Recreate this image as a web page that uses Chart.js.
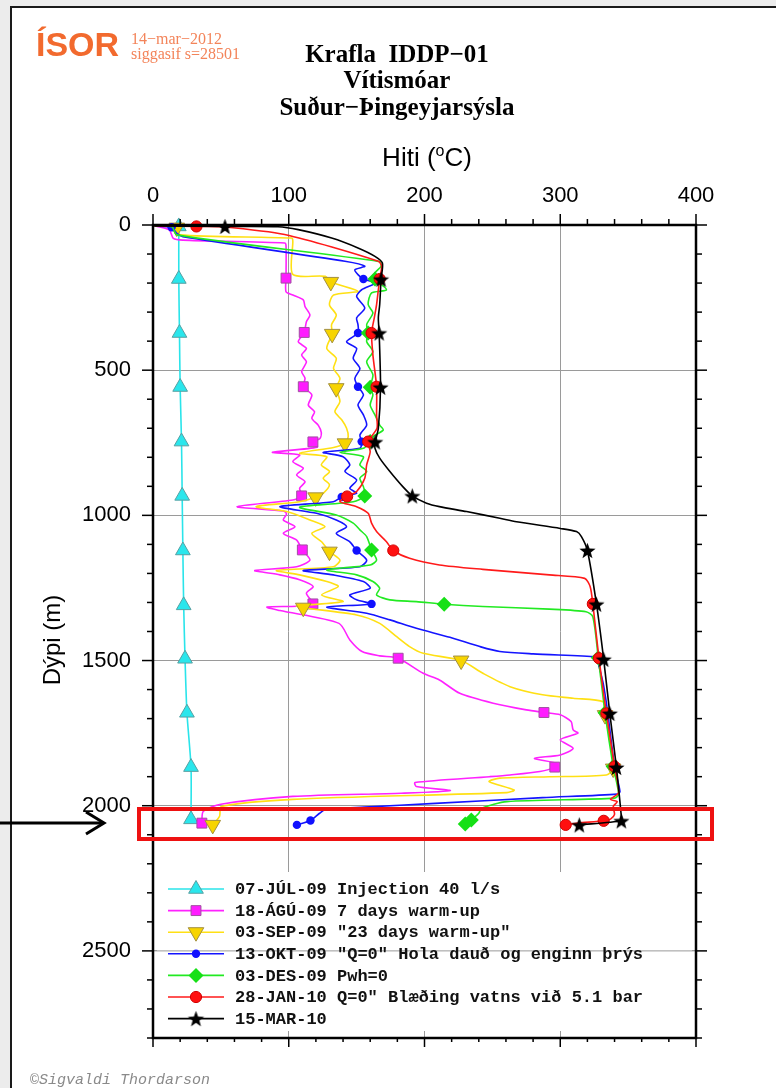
<!DOCTYPE html>
<html lang="is">
<head>
<meta charset="utf-8">
<title>Krafla IDDP-01</title>
<script src="https://cdn.jsdelivr.net/npm/chart.js@4.4.1/dist/chart.umd.min.js"></script>
<style>
  html, body { margin: 0; padding: 0; background: #fff; }
  #page { position: relative; width: 776px; height: 1088px; overflow: hidden; background: #fff; }
  #chartBox { position: absolute; left: 0; top: 0; width: 776px; height: 1088px; }
  .abs { position: absolute; white-space: pre; line-height: 1; }
  .serif { font-family: 'Liberation Serif', 'Times New Roman', serif; }
  .sans { font-family: 'Liberation Sans', Arial, Helvetica, sans-serif; }
</style>
</head>
<body>
<div id="page">
  <div class="abs" style="left:0;top:0;width:10px;height:1088px;background:#ececec"></div>
  <div class="abs" style="left:0;top:0;width:776px;height:6px;background:#ececec"></div>
  <div id="chartBox"><canvas id="chart"></canvas></div>
  <div class="abs" style="left:10px;top:6px;width:2px;height:1082px;background:#1a1a1a"></div>
  <div class="abs" style="left:10px;top:6px;width:766px;height:2px;background:#1a1a1a"></div>

  <div class="abs sans" style="left:36px;top:27px;font-size:34px;font-weight:bold;color:#f26a2e">ÍSOR</div>
  <div class="abs serif" style="left:131px;top:31px;font-size:16px;color:#f3845a">14−mar−2012</div>
  <div class="abs serif" style="left:131px;top:46px;font-size:16px;color:#f3845a">siggasif s=28501</div>

  <div class="abs serif" style="left:197px;top:41px;width:400px;text-align:center;font-size:25px;font-weight:bold">Krafla  IDDP−01</div>
  <div class="abs serif" style="left:197px;top:67px;width:400px;text-align:center;font-size:25px;font-weight:bold">Vítismóar</div>
  <div class="abs serif" style="left:197px;top:94px;width:400px;text-align:center;font-size:25px;font-weight:bold">Suður−Þingeyjarsýsla</div>

  <div class="abs sans" style="left:327px;top:144px;width:200px;text-align:center;font-size:26px">Hiti (<span style="font-size:16px;position:relative;top:-10px">o</span>C)</div>
  <div class="abs sans" style="left:-48px;top:625px;width:200px;height:30px;line-height:30px;text-align:center;font-size:24px;transform:rotate(-90deg)">Dýpi (m)</div>

  <div class="abs" style="left:30px;top:1072px;font:italic 15px 'Liberation Mono','Courier New',monospace;color:#8a8a8a">©Sigvaldi Thordarson</div>

  <div class="abs" style="left:137px;top:807px;width:577px;height:34px;border:4px solid #ee1111;box-sizing:border-box"></div>
  <svg class="abs" style="left:0;top:805px" width="115" height="36">
    <line x1="0" y1="18" x2="102" y2="18" stroke="#000" stroke-width="3"/>
    <polyline points="86,7 104,18 86,29" fill="none" stroke="#000" stroke-width="3"/>
  </svg>
</div>

<script>
// Axis tick labels
const tempTicks = [0, 100, 200, 300, 400];
const depthTicks = [0, 500, 1000, 1500, 2000, 2500];

const seriesLabels = [
  '07-JÚL-09 Injection 40 l/s',
  '18-ÁGÚ-09 7 days warm-up',
  '03-SEP-09 "23 days warm-up"',
  '13-OKT-09 "Q=0" Hola dauð og enginn þrýs',
  '03-DES-09 Pwh=0',
  '28-JAN-10 Q=0" Blæðing vatns við 5.1 bar',
  '15-MAR-10'
];

// 07-JÚL-09 (temp °C, depth m, marker depths)
const julTemp = [19, 19, 19.5, 20, 21, 21.5, 22, 22.6, 23.6, 25, 28, 28];
const julDepth = [5, 186, 372, 558, 746, 933, 1121, 1310, 1494, 1680, 1867, 2047];
const julMarks = [5, 186, 372, 558, 746, 933, 1121, 1310, 1494, 1680, 1867, 2047];

// 18-ÁGÚ-09
const aguTemp = [2, 12, 15, 22, 97, 98, 98, 98, 103, 110.7, 112, 115.6, 113, 111.4, 107, 113, 109.5, 113, 109.5, 112,
  110.7, 117, 114.4, 119, 117, 121.8, 124, 123, 117.8, 121, 88, 108, 103, 110.7, 105.8, 112, 108, 109.5, 103, 62,
  96, 98.4, 96, 104.6, 96, 105.8, 110, 115.6, 105.8, 75, 93.5, 108, 118, 113, 117.8, 106, 84, 93.5, 137, 145,
  154, 167, 180.6, 199, 211, 226, 250.6, 275, 288, 300, 308, 309.5, 313, 300, 309.5, 300, 281, 297, 296, 285,
  263, 248, 193, 194, 219, 183, 103, 50, 37, 36];
const aguDepth = [3, 17, 46, 52, 62, 72, 183, 230, 241, 258, 281, 310, 333, 370, 402, 425, 448, 471, 505, 528,
  557, 585, 620, 643, 666, 690, 715, 735, 747, 765, 783, 792, 815, 838, 861, 884, 907, 933, 947, 970,
  985, 995, 1016, 1039, 1062, 1085, 1119, 1154, 1177, 1190, 1205, 1222, 1245, 1268, 1305, 1313, 1316, 1328, 1372, 1429,
  1469, 1484, 1492, 1544, 1567, 1613, 1647, 1670, 1679, 1687, 1710, 1739, 1750, 1773, 1802, 1825, 1837, 1854, 1867, 1882,
  1894, 1900, 1920, 1934, 1948, 1957, 1968, 1995, 2020, 2060];
const aguMarks = [183, 370, 557, 747, 933, 1119, 1305, 1492, 1679, 1867, 2060];

// 03-SEP-09
const sepTemp = [3, 17.5, 20, 102, 103, 103, 127, 131, 151, 133, 130, 135, 131.5, 132, 128, 135, 133, 137.7, 135, 137.7,
  134, 139, 142.6, 143.8, 141.4, 133, 108, 128, 124, 130, 125.4, 130, 125.4, 119.8, 108, 76, 98.4, 115.6, 126.7, 117,
  124.2, 130, 137.7, 132.8, 91, 108, 128, 136.5, 124.2, 140, 105.8, 110.7, 150, 167, 179.5, 189, 199, 227, 243, 263,
  287, 309.5, 331.6, 333, 336.5, 339, 334, 292, 255.5, 247.6, 266, 260.7, 103, 50.4, 49, 44];
const sepDepth = [3, 9, 34, 45, 55, 170, 177, 196, 228, 241, 275, 310, 344, 375, 425, 459, 494, 528, 562, 608,
  643, 671, 700, 729, 752, 766, 786, 798, 826, 849, 872, 895, 924, 938, 953, 970, 987, 1016, 1039, 1062,
  1091, 1125, 1154, 1177, 1190, 1205, 1228, 1245, 1274, 1297, 1312, 1318, 1343, 1372, 1418, 1452, 1475, 1500, 1544, 1590,
  1618, 1630, 1642, 1688, 1773, 1872, 1894, 1900, 1905, 1917, 1946, 1955, 1978, 2003, 2037, 2066];
const sepMarks = [9, 196, 375, 562, 752, 938, 1125, 1318, 1500, 1688, 1872, 2066];

// 13-OKT-09
const oktTemp = [1, 13.7, 17.5, 22, 141.4, 156, 148.7, 151, 155, 163.5, 153.7, 150, 156, 150, 151, 151, 142.6, 150, 147.5, 152.4,
  148.7, 151, 155, 151, 155, 157.4, 152.4, 153.7, 152.4, 125.4, 140, 145, 141.4, 150, 145, 150, 139, 132.8, 93.5, 120.5,
  135, 142.6, 135, 145, 150, 157.4, 152.4, 110.7, 132.8, 155, 160, 145, 150, 161, 128, 157.4, 174.5, 194, 218.7, 240.8,
  255.5, 280, 326.7, 327, 331.6, 335, 340, 344, 342, 287, 208, 155.6, 126.7, 122.7, 116, 106];
const oktDepth = [3, 8, 29, 40, 125, 142, 154, 171, 186, 200, 223, 246, 286, 320, 343, 372, 402, 425, 459, 494,
  528, 557, 585, 620, 654, 689, 723, 746, 769, 783, 798, 826, 849, 878, 907, 924, 937, 953, 970, 993,
  1016, 1039, 1062, 1091, 1121, 1154, 1177, 1190, 1205, 1228, 1251, 1274, 1291, 1305, 1316, 1337, 1360, 1389, 1420, 1452,
  1469, 1477, 1487, 1492, 1578, 1680, 1865, 1951, 1960, 1972, 1992, 2005, 2014, 2026, 2051, 2066];
const oktMarks = [8, 186, 372, 557, 746, 937, 1121, 1305, 1492, 1680, 1865, 2051, 2066];

// 03-DES-09
const desTemp = [1, 14, 17.5, 167, 168, 163.5, 163.5, 172, 161, 158.5, 162, 157.4, 158.5, 157.4, 162, 157.4, 162, 160, 162, 160,
  163.5, 167, 169.6, 162, 160, 155, 137.7, 155, 152.4, 157.4, 152.4, 155, 156, 147.5, 108, 135, 147.5, 152.4, 157.4, 161,
  164.7, 160, 128, 150, 162, 167, 164.7, 174.5, 194, 214.5, 243, 292, 319, 324, 328, 333, 339, 343, 340, 260.7,
  242, 240, 234.5, 230];
const desDepth = [3, 6, 34, 126, 142, 165, 186, 223, 234, 274, 303, 343, 372, 402, 436, 471, 516, 559, 585, 620,
  654, 689, 706, 729, 746, 769, 783, 798, 826, 849, 872, 901, 933, 953, 972, 999, 1027, 1050, 1073, 1119,
  1154, 1171, 1188, 1205, 1228, 1251, 1274, 1291, 1297, 1306, 1314, 1323, 1332, 1349, 1490, 1680, 1865, 1960, 1974, 1986,
  2009, 2026, 2049, 2063];
const desMarks = [186, 372, 559, 746, 933, 1119, 1306, 1490, 1680, 1865, 2049, 2063];

// 28-JAN-10
const janTemp = [1, 32, 50.6, 97, 166, 168.4, 167, 166, 164.7, 163, 161, 162, 164.7, 164.7, 165, 158.5, 160, 157.4, 156, 150,
  143, 137.7, 150, 158.5, 161, 164.7, 172, 177, 189, 211, 243, 292, 318, 322, 324, 328.5, 334, 340, 343, 337,
  342, 339, 340, 337, 332, 313, 304];
const janDepth = [3, 5, 6, 33, 125, 142, 186, 223, 274, 320, 372, 448, 557, 654, 700, 746, 781, 826, 872, 918,
  935, 953, 970, 993, 1027, 1056, 1091, 1121, 1148, 1171, 1186, 1205, 1217, 1245, 1305, 1492, 1682, 1865, 1955, 1978,
  1986, 2003, 2030, 2046, 2052, 2060, 2066];
const janMarks = [5, 186, 372, 557, 746, 935, 1121, 1305, 1492, 1682, 1865, 2052, 2066];

// 15-MAR-10
const marTemp = [1, 53, 92, 107, 131.6, 151, 163.5, 169, 168, 167, 166, 166.6, 167.6, 166, 163.7, 163.5, 167, 174.5, 184, 191,
  201.5, 211, 231, 255.5, 267.8, 300, 312, 315.6, 320, 326.7, 332, 336.5, 341.4, 345, 345, 314];
const marDepth = [3, 5, 6, 16, 45, 79, 108, 131, 187, 274, 320, 372, 559, 700, 747, 769, 803, 849, 901, 933,
  958, 970, 987, 1010, 1022, 1045, 1056, 1073, 1121, 1306, 1496, 1682, 1868, 2037, 2052, 2066];
const marMarks = [5, 187, 372, 559, 747, 933, 1121, 1306, 1496, 1682, 1868, 2052, 2066];

// filled five point star for the last series
function starImage(r, color) {
  const c = document.createElement('canvas');
  const s = Math.ceil(r * 2 + 2);
  c.width = s; c.height = s;
  const g = c.getContext('2d');
  g.translate(s / 2, s / 2 + 0.8);
  g.beginPath();
  for (let i = 0; i < 10; i++) {
    const rad = i % 2 ? r * 0.42 : r;
    const a = -Math.PI / 2 + i * Math.PI / 5;
    g.lineTo(Math.cos(a) * rad, Math.sin(a) * rad);
  }
  g.closePath();
  g.fillStyle = color;
  g.fill();
  return c;
}

const styles = [
  { line: '#2ae4ea', fill: '#2ae6ec', edge: '#58a0a2', edgeW: 1, style: 'triangle', r: 8.5, rot: 0 },
  { line: '#ff22ff', fill: '#ff1cff', edge: '#a050a0', edgeW: 1, style: 'rect', r: 7, rot: 0 },
  { line: '#ffe014', fill: '#f7d400', edge: '#a39040', edgeW: 1, style: 'triangle', r: 9, rot: 180 },
  { line: '#1414ff', fill: '#1010ff', edge: '#1010ff', edgeW: 0, style: 'circle', r: 4.2, rot: 0 },
  { line: '#22ea22', fill: '#16e016', edge: '#16e016', edgeW: 0, style: 'rectRot', r: 7.5, rot: 0 },
  { line: '#ff1a1a', fill: '#ff1010', edge: '#d00000', edgeW: 1, style: 'circle', r: 5.6, rot: 0 },
  { line: '#000000', fill: '#000000', edge: '#000000', edgeW: 0, style: starImage(8.5, '#000'), r: 8.5, rot: 0 }
];

const series = [
  { temp: julTemp, depth: julDepth, marks: julMarks },
  { temp: aguTemp, depth: aguDepth, marks: aguMarks },
  { temp: sepTemp, depth: sepDepth, marks: sepMarks },
  { temp: oktTemp, depth: oktDepth, marks: oktMarks },
  { temp: desTemp, depth: desDepth, marks: desMarks },
  { temp: janTemp, depth: janDepth, marks: janMarks },
  { temp: marTemp, depth: marDepth, marks: marMarks }
];

const datasets = series.map((s, i) => {
  const st = styles[i];
  return {
    label: seriesLabels[i],
    data: s.temp.map((t, k) => ({ x: t, y: s.depth[k] })),
    borderColor: st.line,
    borderWidth: 1.6,
    tension: 0.25,
    fill: false,
    clip: false,
    pointStyle: st.style,
    pointRotation: st.rot,
    pointRadius: ctx => (ctx.raw && s.marks.includes(ctx.raw.y)) ? st.r : 0,
    pointHoverRadius: ctx => (ctx.raw && s.marks.includes(ctx.raw.y)) ? st.r : 0,
    pointBackgroundColor: st.fill,
    pointBorderColor: st.edge,
    pointBorderWidth: st.edgeW,
    order: series.length - i
  };
});

// legend inside the plot, line + marker + text
const profileLegend = {
  id: 'profileLegend',
  afterDatasetsDraw(chart) {
    const { ctx, chartArea: a, scales } = chart;
    ctx.save();
    ctx.fillStyle = '#fff';
    ctx.fillRect(a.left + 4, a.bottom - 166, a.right - a.left - 8, 159);
    const g = scales.y.getPixelForValue(2500);
    ctx.strokeStyle = '#9a9a9a';
    ctx.lineWidth = 1;
    ctx.beginPath(); ctx.moveTo(a.left, g); ctx.lineTo(a.right, g); ctx.stroke();

    ctx.font = "bold 17px 'Liberation Mono', 'Courier New', monospace";
    ctx.textBaseline = 'middle';
    chart.data.datasets.forEach((ds, i) => {
      const st = styles[i];
      const yy = a.bottom - 149 + i * 21.6;
      ctx.strokeStyle = st.line;
      ctx.lineWidth = 1.6;
      ctx.beginPath(); ctx.moveTo(a.left + 15, yy); ctx.lineTo(a.left + 71, yy); ctx.stroke();
      ctx.fillStyle = st.fill;
      ctx.strokeStyle = st.edge;
      ctx.lineWidth = st.edgeW;
      Chart.helpers.drawPoint(ctx, { pointStyle: st.style, rotation: st.rot, radius: st.r, borderWidth: st.edgeW }, a.left + 43, yy);
      ctx.fillStyle = '#111';
      ctx.fillText(ds.label, a.left + 82, yy + 1);
    });
    ctx.restore();
  }
};

// frame and outward ticks on all four sides
const frameTicks = {
  id: 'frameTicks',
  afterDraw(chart) {
    const { ctx, chartArea: a, scales: { x, y } } = chart;
    const seg = (x1, y1, x2, y2) => { ctx.beginPath(); ctx.moveTo(x1, y1); ctx.lineTo(x2, y2); ctx.stroke(); };
    ctx.save();
    ctx.strokeStyle = '#000';
    ctx.lineWidth = 1.5;
    for (let v = 0; v <= 400; v += 20) {
      const px = x.getPixelForValue(v);
      const len = v % 100 === 0 ? 11 : 6;
      seg(px, a.top, px, a.top - len);
      seg(px, a.bottom, px, a.bottom + len - 2);
    }
    for (let d = 0; d <= 2800; d += 100) {
      const py = y.getPixelForValue(d);
      const len = d % 500 === 0 ? 11 : 6;
      seg(a.left, py, a.left - len, py);
      seg(a.right, py, a.right + len, py);
    }
    ctx.lineWidth = 2.5;
    ctx.strokeRect(a.left, a.top, a.right - a.left, a.bottom - a.top);
    ctx.restore();
  }
};

new Chart(document.getElementById('chart'), {
  type: 'line',
  data: { datasets: datasets },
  options: {
    responsive: true,
    maintainAspectRatio: false,
    animation: false,
    devicePixelRatio: 1,
    layout: { padding: { left: 0, top: 0, right: 80, bottom: 50 } },
    plugins: { legend: { display: false }, tooltip: { enabled: false } },
    scales: {
      x: {
        type: 'linear',
        position: 'top',
        min: 0,
        max: 400,
        afterBuildTicks: s => { s.ticks = tempTicks.map(v => ({ value: v })); },
        afterFit: s => { s.height = 225; },
        grid: { color: '#9a9a9a', lineWidth: 1, drawTicks: false },
        border: { display: false },
        ticks: {
          padding: 16, color: '#000', autoSkip: false, maxRotation: 0,
          callback: v => String(v),
          font: { family: "'Liberation Sans', Arial, sans-serif", size: 22 }
        }
      },
      y: {
        type: 'linear',
        reverse: true,
        min: 0,
        max: 2800,
        afterBuildTicks: s => { s.ticks = depthTicks.map(v => ({ value: v })); },
        afterFit: s => { s.width = 153; },
        grid: { color: '#9a9a9a', lineWidth: 1, drawTicks: false },
        border: { display: false },
        ticks: {
          padding: 22, color: '#000', autoSkip: false,
          callback: v => String(v),
          font: { family: "'Liberation Sans', Arial, sans-serif", size: 22 }
        }
      }
    }
  },
  plugins: [profileLegend, frameTicks]
});
</script>
</body>
</html>
